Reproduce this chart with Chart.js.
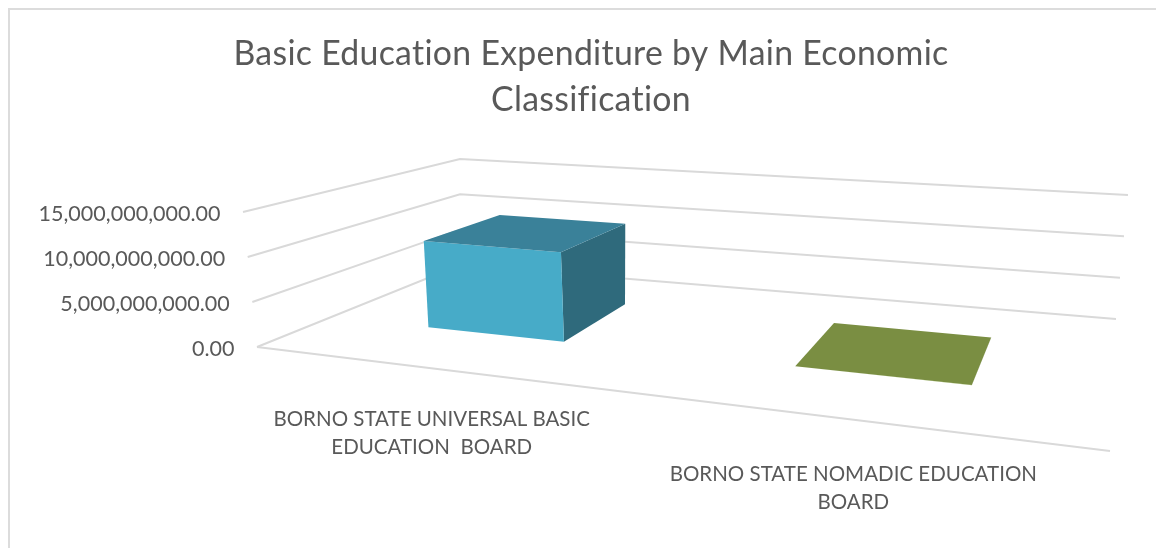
<!DOCTYPE html>
<html><head><meta charset="utf-8">
<style>html,body{margin:0;padding:0;background:#fff;overflow:hidden}canvas{display:block;filter:blur(0.4px)}</style>
<script src="https://cdn.jsdelivr.net/npm/chart.js@4"></script>
</head><body><canvas id="c" width="1156" height="548"></canvas>
<script>
const titleLines = ["Basic Education Expenditure by Main Economic", "Classification"];
const categories = [["BORNO STATE UNIVERSAL BASIC", "EDUCATION  BOARD"], ["BORNO STATE NOMADIC EDUCATION", "BOARD"]];
const expenditure = [10100000000, 25000000];
const yTicks = [0, 5000000000, 10000000000, 15000000000];

const TEXT = "#595959", GRID = "#d9d9d9";
const faceColours = [
  {front: "#47abc8", top: "#3a8199", side: "#2f6a7c"},
  {front: "#9bbb59", top: "#7a8e42", side: "#5f6e34"}
];
// perspective frame: floor and ceiling quads of the 3D box [FL, FR, BR, BL]
const floorQuad = [[257,347],[1110,451],[1116,319],[460,265]];
const roofQuad  = [[243,212],[1117,282],[1128,195],[460,159]];
function homography(q){
  const [p0,p1,p2,p3]=q;
  const dx1=p1[0]-p2[0],dx2=p3[0]-p2[0],sx=p0[0]-p1[0]+p2[0]-p3[0];
  const dy1=p1[1]-p2[1],dy2=p3[1]-p2[1],sy=p0[1]-p1[1]+p2[1]-p3[1];
  const den=dx1*dy2-dx2*dy1;
  const g=(sx*dy2-dx2*sy)/den,h=(dx1*sy-sx*dy1)/den;
  const a=p1[0]-p0[0]+g*p1[0],b=p3[0]-p0[0]+h*p3[0];
  const d=p1[1]-p0[1]+g*p1[1],e=p3[1]-p0[1]+h*p3[1];
  return (u,v)=>{const w=1+g*u+h*v;return [(a*u+b*v+p0[0])/w,(d*u+e*v+p0[1])/w];};
}
const H0=homography(floorQuad),H1=homography(roofQuad);
const project=(u,v,z)=>{const A=H0(u,v),B=H1(u,v);return [A[0]+(B[0]-A[0])*z,A[1]+(B[1]-A[1])*z];};
function poly(ctx,pts,fill){ctx.beginPath();pts.forEach((p,i)=>i?ctx.lineTo(p[0],p[1]):ctx.moveTo(p[0],p[1]));ctx.closePath();ctx.fillStyle=fill;ctx.fill();}
function line(ctx,pts){ctx.beginPath();pts.forEach((p,i)=>i?ctx.lineTo(p[0],p[1]):ctx.moveTo(p[0],p[1]));ctx.stroke();}

const BAR_HALF=0.1, BAR_SHIFT=0.006, V0=0.308, V1=0.708;
const labelDx=[5,7], labelDy=[52,56];
const fmt=v=>Number(v).toLocaleString("en-US",{minimumFractionDigits:2,maximumFractionDigits:2});
const perspective={
  id:"perspective",
  beforeDraw(chart){
    const ctx=chart.ctx;
    ctx.letterSpacing="0.3px";
    ctx.save();
    ctx.strokeStyle="#dcdcdc";ctx.lineWidth=2;
    line(ctx,[[9,548],[9,9],[1156,9]]);
    ctx.restore();
  },
  beforeDatasetsDraw(chart){
    const ctx=chart.ctx,y=chart.scales.y;
    ctx.save();ctx.strokeStyle=GRID;ctx.lineWidth=2;ctx.lineJoin="miter";
    yTicks.forEach(t=>{
      const z=(y.bottom-y.getPixelForValue(t))/y.height;
      line(ctx,[project(0,0,z),project(0,1,z),project(1,1,z)]);
    });
    line(ctx,[project(0,0,0),project(1,0,0)]);
    ctx.restore();
  },
  beforeDatasetDraw(chart,args){
    const ctx=chart.ctx,x=chart.scales.x,y=chart.scales.y;
    const vals=chart.data.datasets[args.index].data;
    ctx.save();
    vals.forEach((val,i)=>{
      const u=(x.getPixelForValue(i)-x.left)/x.width+BAR_SHIFT;
      const z=(y.bottom-y.getPixelForValue(val))/y.height;
      const u0=u-BAR_HALF,u1=u+BAR_HALF,c=faceColours[i];
      poly(ctx,[project(u1,V0,0),project(u1,V1,0),project(u1,V1,z),project(u1,V0,z)],c.side);
      poly(ctx,[project(u0,V0,0),project(u1,V0,0),project(u1,V0,z),project(u0,V0,z)],c.front);
      poly(ctx,[project(u0,V0,z),project(u1,V0,z),project(u1,V1,z),project(u0,V1,z)],c.top);
    });
    ctx.restore();
    return false;
  },
  afterDraw(chart){
    const ctx=chart.ctx,x=chart.scales.x,y=chart.scales.y;
    ctx.save();ctx.letterSpacing="0.01px";ctx.fillStyle=TEXT;ctx.font='20.5px Lato';ctx.textAlign="center";ctx.textBaseline="middle";
    chart.data.labels.forEach((lab,i)=>{
      const u=(x.getPixelForValue(i)-x.left)/x.width;
      const a=project(u,0,0);
      lab.forEach((s,k)=>ctx.fillText(s,a[0]+labelDx[i],a[1]+labelDy[i]+k*28));
    });
    // value labels follow the slanted left wall, as in the 3D reference
    ctx.font='21.5px Lato';ctx.textAlign="right";
    yTicks.forEach(t=>{
      const py=y.getPixelForValue(t),z=(y.bottom-py)/y.height;
      ctx.fillText(fmt(t),project(0,0,z)[0]-22.5,py+1);
    });
    ctx.restore();
  }
};

new Chart(document.getElementById("c"),{
  type:"bar",
  data:{labels:categories,datasets:[{label:"Expenditure",data:expenditure,backgroundColor:faceColours.map(c=>c.front)}]},
  plugins:[perspective],
  options:{
    responsive:false,animation:false,
    layout:{padding:{left:26,right:0,top:0,bottom:200}},
    plugins:{
      legend:{display:false},tooltip:{enabled:false},
      title:{display:true,text:titleLines,color:TEXT,font:{family:"Lato",size:33.8,weight:"normal",lineHeight:46/33.8},padding:{top:31,bottom:90}}
    },
    scales:{
      x:{display:false,grid:{display:false}},
      y:{min:0,max:15000000000,afterFit(s){s.width=214;},
        afterBuildTicks(s){s.ticks=yTicks.map(v=>({value:v}));},
        border:{display:false},grid:{display:false,drawTicks:false},
        ticks:{display:false}}
    }
  }
});
</script></body></html>
